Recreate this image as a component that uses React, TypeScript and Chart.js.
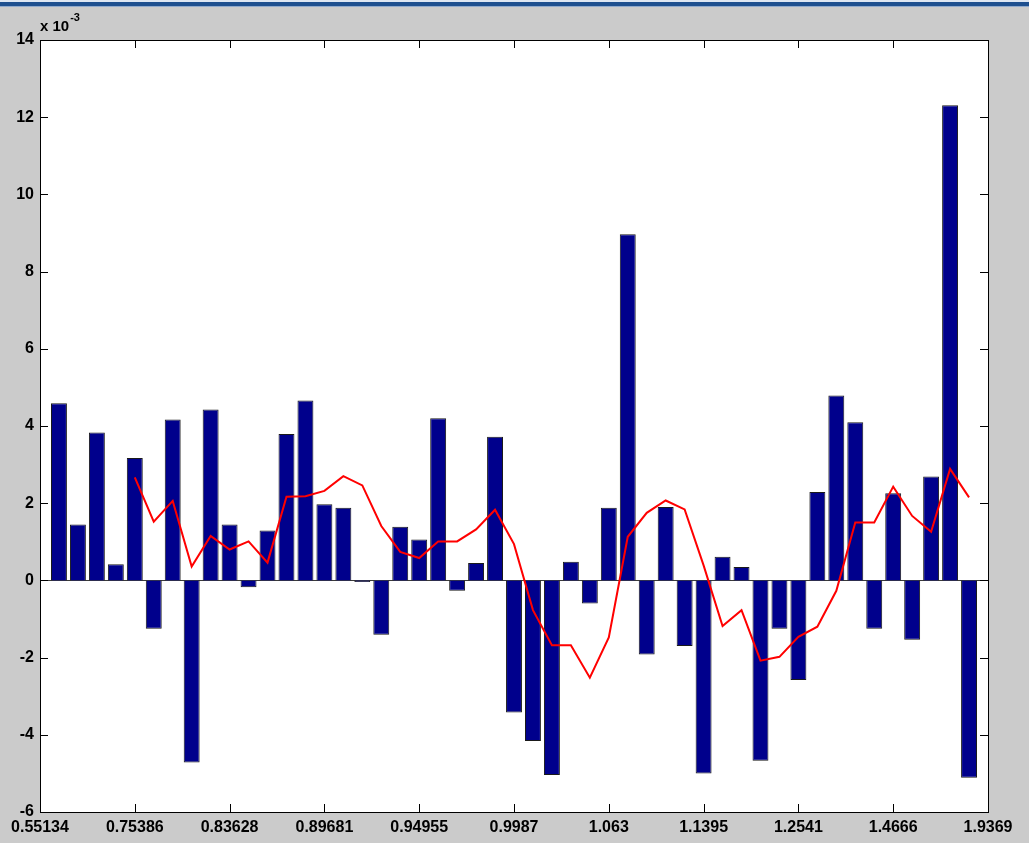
import React, { useEffect, useRef } from "react";
import { Chart, registerables } from "chart.js";

Chart.register(...registerables);

// x tick labels (placed every 5 bar positions, 0..50)
const xTickLabels = ["0.55134", "0.75386", "0.83628", "0.89681", "0.94955", "0.9987", "1.063", "1.1395", "1.2541", "1.4666", "1.9369"];
// y tick values (units of 1e-3)
const yTicks = [-6, -4, -2, 0, 2, 4, 6, 8, 10, 12, 14];

// bar values, units of 1e-3, bars at positions 1..49
const barValues = [
  4.59, 1.45, 3.83, 0.42, 3.17, -1.25, 4.17, -4.72, 4.43, 1.45,
  -0.18, 1.29, 3.79, 4.66, 1.97, 1.88, -0.04, -1.41, 1.39, 1.06,
  4.2, -0.27, 0.45, 3.72, -3.42, -4.16, -5.04, 0.48, -0.6, 1.88,
  8.97, -1.92, 1.9, -1.7, -5.0, 0.61, 0.35, -4.67, -1.25, -2.58,
  2.29, 4.79, 4.1, -1.25, 2.26, -1.54, 2.69, 12.31, -5.11,
];

// red line values (units of 1e-3), same positions; first four undefined
const lineValues: (number | null)[] = [
  null, null, null, null, 2.67, 1.52, 2.06, 0.36, 1.15, 0.8,
  1.01, 0.46, 2.17, 2.18, 2.32, 2.7, 2.46, 1.41, 0.74, 0.58,
  1.01, 1.01, 1.32, 1.83, 0.94, -0.77, -1.68, -1.68, -2.52, -1.48,
  1.13, 1.75, 2.07, 1.84, 0.39, -1.18, -0.77, -2.08, -1.98, -1.46,
  -1.2, -0.27, 1.5, 1.5, 2.43, 1.67, 1.26, 2.89, 2.15,
];

const FONT = '"Liberation Sans", Arial, sans-serif';

const framePlugin = {
  id: "matlabFrame",
  beforeDraw(chart: any) {
    const { ctx, chartArea } = chart;
    ctx.save();
    ctx.fillStyle = "#ffffff";
    ctx.fillRect(chartArea.left, chartArea.top, chartArea.right - chartArea.left, chartArea.bottom - chartArea.top);
    ctx.restore();
  },
  beforeDatasetsDraw(chart: any) {
    const { ctx, chartArea, scales } = chart;
    const y0 = scales.y.getPixelForValue(0);
    ctx.save();
    ctx.strokeStyle = "#3c3c3c";
    ctx.lineWidth = 1;
    ctx.beginPath();
    ctx.moveTo(chartArea.left, Math.round(y0) + 0.5);
    ctx.lineTo(chartArea.right, Math.round(y0) + 0.5);
    ctx.stroke();
    ctx.restore();
  },
  afterDraw(chart: any) {
    const { ctx, chartArea, scales } = chart;
    const { left, right, top, bottom } = chartArea;
    ctx.save();
    ctx.strokeStyle = "#000";
    ctx.lineWidth = 1;
    ctx.strokeRect(Math.round(left) + 0.5, Math.round(top) + 0.5, Math.round(right - left), Math.round(bottom - top));
    const len = 8;
    ctx.beginPath();
    scales.y.ticks.forEach((t: any) => {
      const py = Math.round(scales.y.getPixelForValue(t.value)) + 0.5;
      ctx.moveTo(left, py);
      ctx.lineTo(left + len, py);
      ctx.moveTo(right, py);
      ctx.lineTo(right - len, py);
    });
    scales.x.ticks.forEach((t: any) => {
      const px = Math.round(scales.x.getPixelForValue(t.value)) + 0.5;
      ctx.moveTo(px, bottom);
      ctx.lineTo(px, bottom - len);
      ctx.moveTo(px, top);
      ctx.lineTo(px, top + len);
    });
    ctx.stroke();
    // exponent label
    ctx.fillStyle = "#000";
    ctx.textBaseline = "alphabetic";
    ctx.textAlign = "left";
    ctx.font = `bold 15px ${FONT}`;
    ctx.fillText("x 10", left, top - 9);
    const w = ctx.measureText("x 10").width;
    ctx.font = `bold 11px ${FONT}`;
    ctx.fillText("-3", left + w + 1, top - 19);
    ctx.restore();
  },
};

export default function App() {
  const ref = useRef<HTMLCanvasElement | null>(null);

  useEffect(() => {
    if (!ref.current) return;
    const barData = barValues.map((v, i) => ({ x: i + 1, y: v }));
    const lineData = lineValues.map((v, i) => ({ x: i + 1, y: v }));
    const chart = new Chart(ref.current, {
      type: "bar",
      data: {
        datasets: [
          {
            type: "line",
            data: lineData as any,
            borderColor: "#ff0000",
            borderWidth: 2,
            pointRadius: 0,
            tension: 0,
            fill: false,
            spanGaps: false,
            order: 0,
          } as any,
          {
            type: "bar",
            data: barData as any,
            backgroundColor: "#00008c",
            borderColor: "#1a1a1a",
            borderWidth: 1,
            barPercentage: 0.84,
            categoryPercentage: 1,
            order: 1,
          } as any,
        ],
      },
      options: {
        responsive: false,
        animation: false,
        events: [],
        layout: { padding: { left: 0, top: 40, right: 41, bottom: 0 } },
        plugins: {
          legend: { display: false },
          tooltip: { enabled: false },
        },
        scales: {
          x: {
            type: "linear",
            min: 0,
            max: 50,
            offset: false,
            grid: { display: false, drawTicks: false, offset: false },
            border: { display: false },
            afterBuildTicks: (scale: any) => {
              scale.ticks = xTickLabels.map((_, i) => ({ value: i * 5 }));
            },
            afterFit: (scale: any) => {
              scale.height = 31;
            },
            ticks: {
              autoSkip: false,
              maxRotation: 0,
              padding: 6,
              color: "#000",
              font: { family: FONT, size: 16, weight: "bold" },
              callback: (v: any) => xTickLabels[Math.round(Number(v) / 5)] ?? "",
            },
          },
          y: {
            type: "linear",
            min: -6,
            max: 14,
            grid: { display: false, drawTicks: false },
            border: { display: false },
            afterBuildTicks: (scale: any) => {
              scale.ticks = yTicks.map((v) => ({ value: v }));
            },
            afterFit: (scale: any) => {
              scale.width = 40;
            },
            ticks: {
              padding: 6,
              color: "#000",
              font: { family: FONT, size: 16, weight: "bold" },
              callback: (v: any) => String(v),
            },
          },
        },
      },
      plugins: [framePlugin],
    });
    return () => chart.destroy();
  }, []);

  return (
    <div
      style={{
        position: "fixed",
        left: 0,
        top: 0,
        width: 1029,
        height: 843,
        background: "#cbcbcb",
        overflow: "hidden",
      }}
    >
      <div style={{ position: "absolute", left: 0, top: 0, width: 1029, height: 2, background: "#dde6f2" }} />
      <div style={{ position: "absolute", left: 0, top: 2, width: 1029, height: 4, background: "#1d4f8f" }} />
      <div style={{ position: "absolute", left: 0, top: 6, width: 1029, height: 1, background: "#8fa9cc" }} />
      <canvas ref={ref} width={1029} height={843} style={{ display: "block", position: "absolute", left: 0, top: 0 }} />
    </div>
  );
}
